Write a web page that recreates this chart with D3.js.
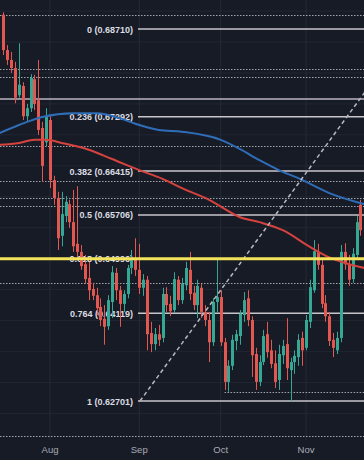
<!DOCTYPE html>
<html><head><meta charset="utf-8">
<script src="https://cdn.jsdelivr.net/npm/d3@7/dist/d3.min.js"></script>
<style>html,body{margin:0;padding:0;background:#171b26;overflow:hidden}svg{display:block}</style>
</head><body><svg id="c" width="364" height="460"></svg>
<script>
// Daily candles, index 0 = 14 Jul (trading days)
const openP  = [.6894,.6837,.6821,.6808,.6764,.6779,.6730,.6743,.6790,.6756,.6711,.6688,.6724,.6627,.6598,.6537,.6569,.6588,.6559,.6524,.6511,.6491,.6469,.6451,.6441,.6422,.6403,.6391,.6430,.6477,.6449,.6427,.6443,.6485,.6499,.6482,.6453,.6466,.6380,.6362,.6378,.6372,.6443,.6427,.6417,.6466,.6433,.6457,.6482,.6445,.6425,.6453,.6414,.6401,.6365,.6430,.6438,.6365,.6301,.6327,.6367,.6375,.6409,.6436,.6401,.6346,.6301,.6333,.6378,.6352,.6331,.6304,.6344,.6362,.6320,.6333,.6341,.6372,.6356,.6398,.6449,.6511,.6490,.6428,.6407,.6369,.6352,.6372,.6511,.6491,.6467,.6506,.6587];
const highP  = [.6898,.6845,.6834,.6818,.6848,.6785,.6750,.6798,.6797,.6821,.6721,.6743,.6730,.6634,.6608,.6608,.6601,.6595,.6611,.6617,.6522,.6506,.6495,.6461,.6453,.6436,.6425,.6441,.6488,.6485,.6456,.6449,.6490,.6514,.6533,.6524,.6475,.6472,.6398,.6388,.6393,.6453,.6454,.6440,.6478,.6472,.6469,.6495,.6511,.6456,.6466,.6459,.6425,.6414,.6436,.6499,.6449,.6372,.6336,.6377,.6385,.6417,.6446,.6449,.6407,.6356,.6344,.6385,.6398,.6369,.6352,.6361,.6369,.6404,.6340,.6352,.6378,.6382,.6409,.6466,.6530,.6524,.6498,.6441,.6414,.6380,.6382,.6522,.6525,.6506,.6517,.6569,.6595];
const lowP   = [.6829,.6813,.6800,.6751,.6760,.6724,.6721,.6737,.6740,.6700,.6624,.6682,.6614,.6587,.6514,.6520,.6559,.6550,.6511,.6501,.6482,.6459,.6433,.6433,.6409,.6391,.6361,.6385,.6404,.6433,.6390,.6414,.6436,.6475,.6472,.6443,.6440,.6352,.6349,.6352,.6359,.6365,.6414,.6407,.6412,.6425,.6427,.6449,.6433,.6417,.6404,.6404,.6391,.6333,.6359,.6414,.6359,.6288,.6285,.6320,.6352,.6361,.6398,.6391,.6309,.6288,.6294,.6328,.6340,.6323,.6291,.6288,.6330,.6304,.6270,.6314,.6327,.6327,.6352,.6388,.6445,.6482,.6420,.6398,.6359,.6341,.6346,.6365,.6482,.6456,.6461,.6498,.6537];
const closeP = [.6837,.6821,.6808,.6760,.6781,.6730,.6743,.6792,.6750,.6708,.6650,.6730,.6627,.6598,.6533,.6572,.6592,.6559,.6520,.6511,.6488,.6467,.6449,.6440,.6420,.6401,.6390,.6433,.6478,.6449,.6427,.6443,.6485,.6499,.6482,.6453,.6466,.6378,.6362,.6378,.6369,.6443,.6425,.6415,.6467,.6433,.6459,.6485,.6443,.6425,.6456,.6414,.6401,.6365,.6430,.6438,.6365,.6301,.6327,.6369,.6378,.6411,.6433,.6401,.6344,.6301,.6333,.6375,.6349,.6330,.6301,.6346,.6359,.6323,.6333,.6343,.6369,.6352,.6401,.6454,.6512,.6490,.6427,.6407,.6367,.6356,.6372,.6511,.6491,.6466,.6508,.6559,.6546];

const monthLabels = ["Aug","Sep","Oct","Nov"];
const monthStartIdx = [12,35,56,78];

const blueMaIdx = [-1,4,10,18,24,30,34,40,46,56,61,66,71,76,84,93];
const blueMaVal = [.6703,.6716,.6729,.6735,.6735,.6727,.6718,.6708,.6705,.6692,.6677,.6659,.6643,.6630,.6606,.6588];
const redMaIdx  = [-1,4,8,11,15,22,28,35,41,46,53,61,66,72,79,84,88,93];
const redMaVal  = [.6684,.6687,.6692,.6692,.6687,.6676,.6661,.6643,.6629,.6614,.6595,.6567,.6559,.6546,.6519,.6502,.6493,.6485];

const fibRatioLabels = ["0","0.236","0.382","0.5","0.618","0.764","1"];
const fibPrices = [0.68710,0.67292,0.66415,0.65706,0.64996,0.64119,0.62701];
const fibAnchorIdx = [35.2,105];

const dottedLevels = [0.6894,0.6806,0.6793,0.6682,0.6625,0.6598,0.6585,0.6461,0.6214];
const solidLevels = [0.6758];
const partialLevel = 0.6285, partialFromIdx = 57;
const yellowLevel = 0.6500;
const gridPrices = [0.690,0.685,0.680,0.675,0.670,0.665,0.660,0.655,0.650,0.645,0.640,0.635,0.630,0.625];

const W = 364, H = 460;
const FONT = "'Liberation Sans', Arial, sans-serif";
const svg = d3.select("#c");
const x = d3.scaleLinear().domain([-0.887, 92.93]).range([0, W]);
const y = d3.scaleLinear().domain([0.62701, 0.68710]).range([401, 29]);

svg.append("rect").attr("width",W).attr("height",H).attr("fill","#171b26");

// grid
svg.append("g").selectAll("line").data(gridPrices).join("line")
  .attr("x1",0).attr("x2",W).attr("y1",d=>y(d)).attr("y2",d=>y(d))
  .attr("stroke","#222633").attr("stroke-width",1);
svg.append("g").selectAll("line").data(monthStartIdx).join("line")
  .attr("x1",d=>x(d)).attr("x2",d=>x(d)).attr("y1",0).attr("y2",440)
  .attr("stroke","#252a38").attr("stroke-width",1);

// dotted horizontal levels
svg.append("g").selectAll("line").data(dottedLevels).join("line")
  .attr("x1",0).attr("x2",W).attr("y1",d=>Math.round(y(d))+0.5).attr("y2",d=>Math.round(y(d))+0.5)
  .attr("stroke","#a3a5ae").attr("stroke-width",1.2).attr("stroke-dasharray","1.5,1.5");
svg.append("line").attr("x1",x(partialFromIdx)).attr("x2",W)
  .attr("y1",Math.round(y(partialLevel))+0.5).attr("y2",Math.round(y(partialLevel))+0.5)
  .attr("stroke","#a3a5ae").attr("stroke-width",1.2).attr("stroke-dasharray","1.5,1.5");
svg.append("g").selectAll("line").data(solidLevels).join("line")
  .attr("x1",0).attr("x2",W).attr("y1",d=>y(d)).attr("y2",d=>y(d))
  .attr("stroke","#bdb6c0").attr("stroke-width",1.5);

// fib lines + labels
const fibG = svg.append("g");
fibG.selectAll("line").data(fibPrices).join("line")
  .attr("x1",138).attr("x2",W).attr("y1",d=>y(d)).attr("y2",d=>y(d))
  .attr("stroke","#c9c5cc").attr("stroke-width",1.5);
fibG.selectAll("text").data(fibPrices).join("text")
  .attr("x",133).attr("y",d=>y(d)+3.5).attr("text-anchor","end")
  .attr("fill","#dcdce2").attr("font-family",FONT).attr("font-size",9).attr("font-weight",600)
  .text((d,i)=>`${fibRatioLabels[i]} (${d.toFixed(5)})`);

// candles
const idx = d3.range(openP.length);
const up = "#35a895", dn = "#e2574f";
const cg = svg.append("g");
cg.selectAll("line").data(idx).join("line")
  .attr("x1",i=>Math.round(x(i))+0.5).attr("x2",i=>Math.round(x(i))+0.5)
  .attr("y1",i=>y(highP[i])).attr("y2",i=>y(lowP[i]))
  .attr("stroke",i=>closeP[i]>=openP[i]?up:dn).attr("stroke-width",1);
cg.selectAll("rect").data(idx).join("rect")
  .attr("x",i=>Math.round(x(i))-1).attr("width",3)
  .attr("y",i=>y(Math.max(openP[i],closeP[i])))
  .attr("height",i=>Math.max(1,Math.abs(y(openP[i])-y(closeP[i]))))
  .attr("fill",i=>closeP[i]>=openP[i]?up:dn);

// moving averages
const lineGen = d3.line().curve(d3.curveMonotoneX);
svg.append("path").attr("d",lineGen(blueMaIdx.map((d,i)=>[x(d),y(blueMaVal[i])])))
  .attr("fill","none").attr("stroke","#2f6db8").attr("stroke-width",2);
svg.append("path").attr("d",lineGen(redMaIdx.map((d,i)=>[x(d),y(redMaVal[i])])))
  .attr("fill","none").attr("stroke","#d6433f").attr("stroke-width",2);

// fib trend line (dashed)
svg.append("line").attr("x1",x(fibAnchorIdx[0])).attr("y1",y(fibPrices[6]))
  .attr("x2",x(fibAnchorIdx[1])).attr("y2",y(fibPrices[0]))
  .attr("stroke","#b8b8c0").attr("stroke-width",1.5).attr("stroke-dasharray","4,3");

// yellow level
svg.append("line").attr("x1",0).attr("x2",W).attr("y1",y(yellowLevel)).attr("y2",y(yellowLevel))
  .attr("stroke","#f2e35a").attr("stroke-width",3);

// x axis labels
svg.append("g").selectAll("text").data(monthStartIdx).join("text")
  .attr("x",d=>x(d)).attr("y",453).attr("text-anchor","middle")
  .attr("fill","#a9acb6").attr("font-family",FONT).attr("font-size",9.5)
  .text((d,i)=>monthLabels[i]);
</script></body></html>
